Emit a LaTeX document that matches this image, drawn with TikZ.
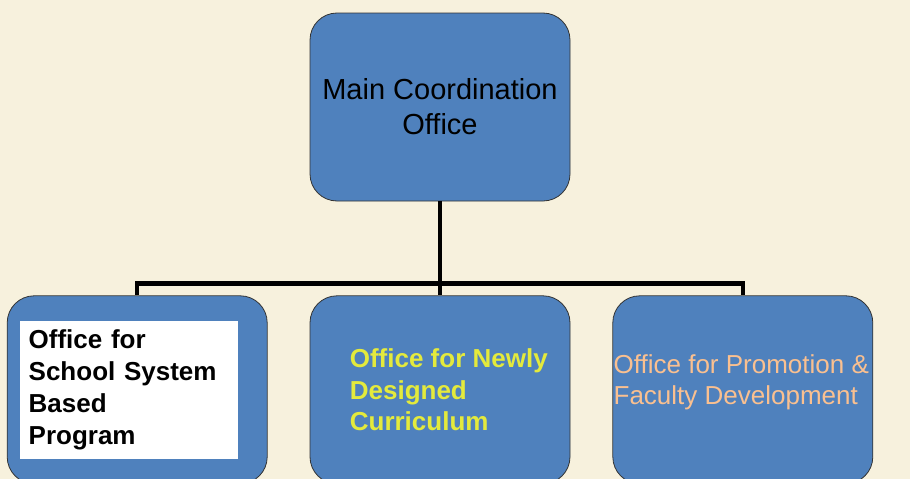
\documentclass[tikz,border=0pt]{standalone}
\usepackage{fontspec}
\setmainfont{Liberation Sans}
\usetikzlibrary{positioning}
\definecolor{cream}{HTML}{F7F1DD}
\definecolor{boxblue}{HTML}{4F81BD}
\definecolor{ylw}{HTML}{E4EA3C}
\definecolor{peach}{HTML}{FAC090}

\begin{document}
\begin{tikzpicture}[x=1pt, y=-1pt, node distance=42pt, line width=4.5pt]

  % Styles
  \tikzstyle{office} = [rectangle, rounded corners=27pt, draw=black!80, line width=0.8pt, fill=boxblue, minimum width=260pt, minimum height=188pt, inner sep=0pt]
  \tikzstyle{caption} = [inner sep=0pt, align=left, font=\fontsize{26}{31.5}\selectfont]

  % Background
  \fill[cream] (0,0) rectangle (910,479);
  \useasboundingbox (0,0) rectangle (910,479);

  % Boxes
  \node[office, align=center, font=\fontsize{29}{35}\selectfont] (main) at (440,107) {Main Coordination\\Office};
  \node[office, below=94pt of main] (mid) {};
  \node[office, left=of mid] (school) {};
  \node[office, right=of mid] (promo) {};

  % Texts
  \node[caption, fill=white, text width=200pt, minimum height=138pt, inner xsep=9pt, font=\bfseries\fontsize{26}{32}\selectfont] (schooltxt) at ([xshift=-8.5pt]school.center) {Office for\\School System\\Based\\Program};
  \node[caption, anchor=west, text=ylw, font=\bfseries\fontsize{26}{31.5}\selectfont] (midtxt) at ([xshift=38pt]mid.west) {Office for Newly\\Designed\\Curriculum};
  \node[caption, anchor=west, text=peach, font=\fontsize{26}{31}\selectfont] (promotxt) at ([xshift=-1pt, yshift=8pt]promo.west) {Office for Promotion \&\\Faculty Development};

  % Lines
  \coordinate (joint) at ([yshift=-82pt]main.south);
  \draw (main.south) -- (joint);
  \draw (joint) -- (mid.north);
  \draw (joint) -| (school.north);
  \draw (joint) -| (promo.north);

\end{tikzpicture}
\end{document}
